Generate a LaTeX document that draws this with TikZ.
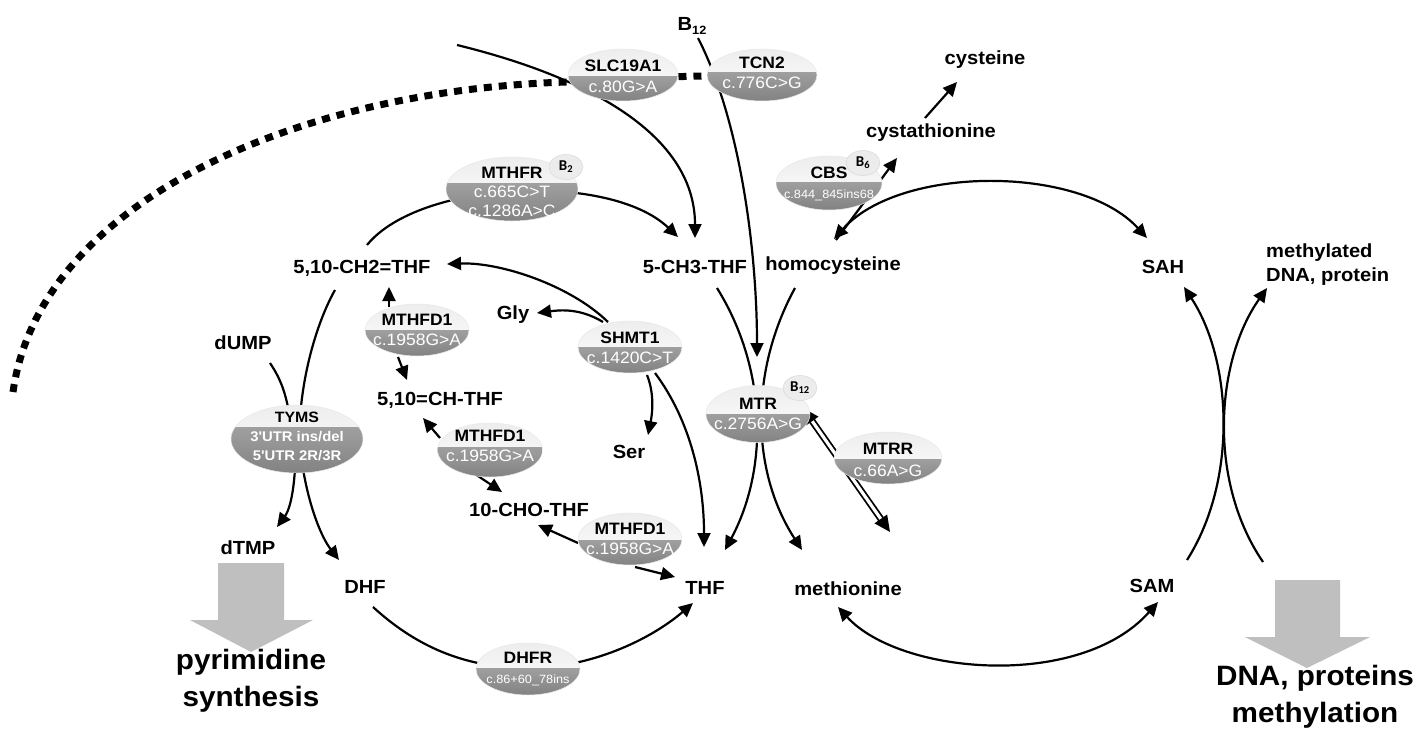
\documentclass[tikz,border=0pt]{standalone}
\usepackage{fontspec}
\setmainfont{Liberation Sans}[FakeStretch=1.06]
\newfontfamily\nomapfont{Liberation Sans}[FakeStretch=1.06, Ligatures=TeXOff]
\newfontfamily\bubfont{Carlito}
\usetikzlibrary{shapes.geometric,arrows.meta}
\pgfdeclarelayer{bg}
\pgfsetlayers{bg,main}
\newcommand\Rp[2]{([shift={(#2)}]#1.center)}
\tikzset{
  enz/.style n args={3}{ellipse, inner sep=0pt, minimum width=#1pt, minimum height=#2pt,
    draw=gray!18, line width=0.5pt,
    path picture={
      \shade[top color=gray!14, bottom color=white]
        (path picture bounding box.north west) rectangle ([yshift=#3pt]path picture bounding box.east);
      \shade[top color=gray!75, bottom color=gray!98]
        ([yshift=#3pt]path picture bounding box.west) rectangle (path picture bounding box.south east);
    }},
  enzT/.style={align=center, inner sep=0pt, font=\fontsize{16.5}{20}\selectfont},
  lbl/.style={font=\fontsize{19}{24}\selectfont\bfseries, inner sep=1pt},
  big/.style={font=\fontsize{28}{37}\selectfont\bfseries, align=center, inner sep=0pt},
  bub/.style={ellipse, fill=gray!15, draw=gray!30, line width=0.5pt, minimum width=34pt,
    minimum height=25pt, inner sep=0pt, font=\bubfont\bfseries\fontsize{15}{15}\selectfont},
  conn/.style={line width=2.2pt},
  arr/.style={conn, -{Triangle[length=14pt,width=13pt]}},
  darr/.style={conn, {Triangle[length=14pt,width=13pt]}-{Triangle[length=14pt,width=13pt]}},
  dbl/.style={line width=1.8pt, double=white, double distance=3.2pt,
    {Triangle[length=16pt,width=15pt]}-{Triangle[length=16pt,width=15pt]}},
  dots/.style={line width=7pt, dash pattern=on 8pt off 7pt},
  blockarr/.style={fill=gray!50}
}
\begin{document}
\begin{tikzpicture}[x=1pt,y=-1pt]
\useasboundingbox (0,0) rectangle (1423,731);

% ---------- labels ----------
\node[lbl] (b12) at (692,26) {B\raisebox{-4pt}{\fontsize{12}{12}\selectfont 12}};
\node[lbl] (cys) at (985,60) {cysteine};
\node[lbl] (cyst) at (931,133) {cystathionine};
\node[lbl] (ch2) at (362,268) {5,10-CH2=THF};
\node[lbl] (ch3) at (695,267) {5-CH3-THF};
\node[lbl] (hcy) at (833,266) {homocysteine};
\node[lbl] (sah) at (1163,267) {SAH};
\node[lbl, align=left, anchor=west] (mdna) at (1265,265) {methylated\\DNA, protein};
\node[lbl] (gly) at (513,315) {Gly};
\node[lbl] (dump) at (243,343) {dUMP};
\node[lbl] (ch) at (440,400) {5,10=CH-THF};
\node[lbl] (ser) at (629,452) {Ser};
\node[lbl] (cho) at (529,510) {10-CHO-THF};
\node[lbl] (dtmp) at (248,548) {dTMP};
\node[lbl] (dhf) at (365,587) {DHF};
\node[lbl] (thf) at (705,588) {THF};
\node[lbl] (met) at (848,589) {methionine};
\node[lbl] (sam) at (1152,586) {SAM};
\node[big] (pyr) at (251,681) {pyrimidine\\synthesis};
\node[big] (dnap) at (1315,697) {DNA, proteins\\methylation};

% ---------- gray block arrows ----------
\fill[blockarr] (218,563) -- (284,563) -- (284,620) -- (313,620) -- (251,652) -- (190,620) -- (218,620) -- cycle;
\fill[blockarr] (1275,580) -- (1340,580) -- (1340,637) -- (1370,637) -- (1307,668) -- (1245,637) -- (1275,637) -- cycle;

% ---------- enzymes ----------
\node[enz={110}{52}{-1}] (slc) at (623,75) {};
\node[enz={110}{52}{3}] (tcn) at (762,75) {};
\node[enz={132}{64}{6}] (mthfr) at (512,189) {};
\node[enz={106}{54}{1}] (cbs) at (829,183) {};
\node[enz={104}{52}{0}] (mthfdA) at (417,330) {};
\node[enz={104}{52}{0}] (shmt) at (630,347) {};
\node[enz={132}{68}{12}] (tyms) at (297,439) {};
\node[enz={105}{54}{3}] (mthfdB) at (490,450) {};
\node[enz={104}{57}{0}] (mtr) at (758,414) {};
\node[enz={108}{52}{-1}] (mtrr) at (888,458) {};
\node[enz={104}{52}{-1}] (mthfdC) at (630,539) {};
\node[enz={104}{52}{1}] (dhfr) at (528,669) {};

\node[enzT] (slcT) at (623,76) {\textbf{SLC19A1}\\[1pt]\textcolor{white}{c.80G>A}};
\node[enzT] (tcnT) at (762,73) {\textbf{TCN2}\\\textcolor{white}{c.776C>G}};
\node[enzT, font=\fontsize{16.5}{19}\selectfont] (mthfrT) at (512,192) {\textbf{MTHFR}\\\textcolor{white}{c.665C>T}\\\textcolor{white}{c.1286A>C}};
\node[enzT] (cbsT) at (829,184) {\textbf{CBS}\\{\fontsize{12}{12}\selectfont\textcolor{white}{c.844\_845ins68}}};
\node[enzT] (mthfdAT) at (417,330) {\textbf{MTHFD1}\\\textcolor{white}{c.1958G>A}};
\node[enzT] (shmtT) at (630,348) {\textbf{SHMT1}\\\textcolor{white}{c.1420C>T}};
\node[enzT, font=\nomapfont\fontsize{14}{19}\selectfont\bfseries] (tymsT) at (297,436) {{\fontsize{15}{19}\selectfont TYMS}\\\textcolor{white}{3'UTR ins/del}\\\textcolor{white}{5'UTR 2R/3R}};
\node[enzT] (mthfdBT) at (490,446) {\textbf{MTHFD1}\\\textcolor{white}{c.1958G>A}};
\node[enzT] (mtrT) at (758,414) {\textbf{MTR}\\\textcolor{white}{c.2756A>G}};
\node[enzT] (mtrrT) at (888,460) {\textbf{MTRR}\\[2pt]\textcolor{white}{c.66A>G}};
\node[enzT] (mthfdCT) at (630,539) {\textbf{MTHFD1}\\\textcolor{white}{c.1958G>A}};
\node[enzT] (dhfrT) at (528,669) {\textbf{DHFR}\\{\fontsize{12}{12}\selectfont\textcolor{white}{c.86+60\_78ins}}};

% ---------- cofactor bubbles ----------
\node[bub] (b2) at (566,167) {B\textsubscript{2}};
\node[bub] (b6) at (863,163) {B\textsubscript{6}};
\node[bub] (b12m) at (800,388) {B\textsubscript{12}};

% ---------- connectors ----------
\begin{pgfonlayer}{bg}
\coordinate (dotend) at (13,392);
\draw[dots] (dotend) .. controls (40,200) and (300,90) .. (567,82)
  .. controls (620,80) and (670,76) .. \Rp{tcn}{-50,1};
\coordinate (slcin) at (457,45);
\draw[arr] (slcin) .. controls (600,80) and (695,140) .. \Rp{ch3}{0,-29};
\draw[arr] \Rp{b12}{6,12} .. controls (740,120) and (757,250) .. \Rp{mtr}{-1,-57};
\draw[arr] \Rp{ch2}{5,-23} .. controls (420,180) and (610,172) .. \Rp{ch3}{-17,-30};
\draw[arr] \Rp{shmt}{-22,-25} .. controls (570,285) and (500,262) .. \Rp{ch2}{85,-4};
\draw[arr] \Rp{shmt}{-27,-25} .. controls (580,308) and (560,310) .. \Rp{gly}{24,-2};
\draw[arr] \Rp{shmt}{17,28} .. controls (655,395) and (652,415) .. \Rp{ser}{19,-17};
\draw[arr] \Rp{shmt}{25,26} .. controls (690,420) and (704,480) .. \Rp{thf}{-1,-41};
\draw[arr] \Rp{mthfdA}{-28,-23} -- \Rp{ch2}{27,19};
\draw[arr] \Rp{mthfdA}{-19,27} -- \Rp{ch}{-33,-20};
\draw[arr] \Rp{mthfdB}{-50,-12} -- \Rp{ch}{-17,18};
\draw[arr] \Rp{mthfdB}{-18,22} -- \Rp{cho}{-27,-18};
\draw[arr] \Rp{mthfdC}{-52,4} -- \Rp{cho}{9,15};
\draw[arr] \Rp{mthfdC}{5,28} -- \Rp{thf}{-30,-11};
\draw[arr] \Rp{ch3}{22,21} .. controls (768,370) and (768,470) .. \Rp{thf}{20,-38};
\draw[arr] \Rp{hcy}{-38,22} .. controls (750,370) and (750,470) .. \Rp{met}{-46,-39};
\draw[dbl] \Rp{mtr}{45,-6} -- \Rp{mtrr}{2,74};
\draw[arr] \Rp{hcy}{3,-26} -- \Rp{cyst}{-34,25};
\draw[arr] \Rp{cyst}{-6,-15} -- \Rp{cys}{-28,22};
\draw[darr] \Rp{hcy}{1,-27} .. controls (900,165) and (1080,165) .. \Rp{sah}{-16,-29};
\draw[conn] \Rp{ch2}{-27,22} .. controls (318,320) and (303,370) .. \Rp{tyms}{3,-20};
\draw[conn] \Rp{dump}{27,20} .. controls (280,378) and (286,392) .. \Rp{tyms}{-7,-20};
\draw[arr] \Rp{tyms}{-2,30} .. controls (293,500) and (288,512) .. \Rp{dtmp}{29,-21};
\draw[arr] \Rp{tyms}{6,30} .. controls (310,510) and (322,538) .. \Rp{dhf}{-26,-27};
\draw[arr] \Rp{dhf}{8,20} .. controls (420,650) and (470,668) .. \Rp{dhfr}{0,-1}
  .. controls (590,668) and (650,640) .. \Rp{thf}{-12,15};
\draw[darr] \Rp{met}{-10,18} .. controls (900,675) and (1080,690) .. \Rp{sam}{6,16};
\draw[arr] \Rp{sam}{35,-26} .. controls (1238,480) and (1232,360) .. \Rp{sah}{21,20};
\draw[arr] \Rp{sam}{111,-24} .. controls (1207,480) and (1216,360) .. ([shift={(2,23)}]mdna.west);
\end{pgfonlayer}
\end{tikzpicture}
\end{document}
